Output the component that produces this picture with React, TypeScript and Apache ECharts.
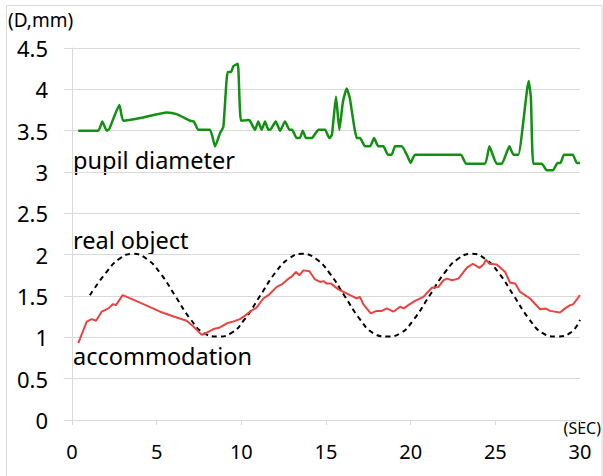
import React, { useEffect, useRef } from "react";
import * as echarts from "echarts";

const xTicks = [0, 5, 10, 15, 20, 25, 30];
const yTicks = [0, 0.5, 1, 1.5, 2, 2.5, 3, 3.5, 4, 4.5];

const pupilDiameter: [number, number][] = [
  [0.37, 3.5], [1.55, 3.5], [1.79, 3.61], [2.05, 3.5], [2.2, 3.52], [2.8, 3.81], [3.03, 3.62],
  [4.2, 3.66], [5.59, 3.72], [6.18, 3.7], [6.97, 3.62], [7.2, 3.61], [7.46, 3.51], [8.15, 3.51],
  [8.45, 3.31], [8.74, 3.47], [8.94, 3.55], [9.19, 4.21], [9.39, 4.21], [9.53, 4.28], [9.79, 4.31],
  [9.98, 3.62], [10.41, 3.63], [10.51, 3.62], [10.81, 3.51], [11.0, 3.61], [11.2, 3.51], [11.4, 3.61],
  [11.6, 3.51], [11.75, 3.52], [12.03, 3.61], [12.29, 3.5], [12.58, 3.61], [12.84, 3.51], [13.0, 3.51],
  [13.27, 3.41], [13.45, 3.41], [13.63, 3.5], [13.82, 3.41], [14.16, 3.41], [14.55, 3.51], [14.94, 3.51],
  [15.2, 3.41], [15.35, 3.45], [15.59, 3.91], [15.79, 3.51], [16.0, 3.85], [16.22, 4.01], [16.4, 3.9],
  [16.82, 3.41], [17.01, 3.41], [17.31, 3.31], [17.6, 3.31], [17.84, 3.41], [18.09, 3.31], [18.39, 3.31],
  [18.65, 3.21], [18.88, 3.21], [19.08, 3.31], [19.47, 3.31], [19.77, 3.21], [20.0, 3.11], [20.26, 3.21],
  [22.96, 3.21], [23.27, 3.1], [24.39, 3.1], [24.65, 3.31], [25.08, 3.1], [25.38, 3.1], [25.83, 3.31],
  [26.07, 3.21], [26.36, 3.21], [26.97, 4.1], [27.1, 3.9], [27.25, 3.1], [27.74, 3.1], [28.04, 3.02],
  [28.4, 3.02], [28.67, 3.11], [28.85, 3.11], [29.06, 3.21], [29.57, 3.21], [29.81, 3.11], [30, 3.11],
];

const realObject: [number, number][] = [
  [1.06, 1.51], [2.0, 1.78], [2.8, 1.95], [3.6, 2.01], [4.4, 1.95], [5.2, 1.78], [6.1, 1.5],
  [7.0, 1.22], [7.8, 1.05], [8.6, 1.01], [9.4, 1.05], [10.2, 1.22], [11.1, 1.5], [12.0, 1.78],
  [12.8, 1.95], [13.6, 2.01], [14.4, 1.95], [15.2, 1.78], [16.1, 1.5], [17.0, 1.22], [17.8, 1.05],
  [18.6, 1.01], [19.4, 1.05], [20.2, 1.22], [21.1, 1.5], [22.0, 1.78], [22.8, 1.95], [23.6, 2.01],
  [24.4, 1.95], [25.2, 1.78], [26.1, 1.5], [27.0, 1.22], [27.8, 1.05], [28.6, 1.01], [29.4, 1.05],
  [30, 1.21],
];

const accommodation: [number, number][] = [
  [0.37, 0.93], [0.87, 1.19], [1.16, 1.22], [1.42, 1.2], [1.75, 1.31], [1.95, 1.33], [2.15, 1.35],
  [2.4, 1.4], [2.6, 1.39], [2.99, 1.51], [4.02, 1.42], [5.2, 1.31], [6.18, 1.24], [6.77, 1.2],
  [7.17, 1.13], [7.66, 1.03], [7.9, 1.05], [8.35, 1.1], [8.74, 1.12], [9.14, 1.17], [9.5, 1.19],
  [9.92, 1.22], [10.2, 1.26], [10.51, 1.31], [10.9, 1.36], [11.3, 1.47], [11.6, 1.51], [12.09, 1.61],
  [12.39, 1.64], [12.78, 1.71], [12.95, 1.73], [13.23, 1.79], [13.43, 1.75], [13.66, 1.81], [14.02, 1.8],
  [14.35, 1.7], [14.65, 1.67], [14.85, 1.68], [15.04, 1.65], [15.3, 1.65], [15.73, 1.58], [16.03, 1.55],
  [16.42, 1.51], [16.82, 1.47], [17.0, 1.49], [17.21, 1.4], [17.64, 1.29], [17.99, 1.32], [18.3, 1.32],
  [18.59, 1.35], [18.98, 1.31], [19.37, 1.37], [19.6, 1.35], [19.86, 1.39], [20.26, 1.44], [20.75, 1.49],
  [21.25, 1.6], [21.64, 1.61], [21.93, 1.69], [22.13, 1.71], [22.45, 1.69], [22.82, 1.71], [23.31, 1.84],
  [23.67, 1.89], [24.06, 1.84], [24.3, 1.88], [24.45, 1.94], [24.65, 1.89], [25.08, 1.88], [25.58, 1.79],
  [25.87, 1.66], [26.17, 1.65], [26.46, 1.55], [27.05, 1.47], [27.64, 1.34], [27.95, 1.35], [28.23, 1.32],
  [28.82, 1.3], [29.12, 1.35], [29.42, 1.39], [29.6, 1.4], [30, 1.51],
];

const labels = {
  yUnit: "(D,mm)",
  xUnit: "(SEC)",
  pupil: "pupil diameter",
  real: "real object",
  accom: "accommodation",
};

const GRID = "#d9d9d9";
const MAIN_FONT = "'Noto Sans', 'Open Sans', sans-serif";

export default function App() {
  const ref = useRef<HTMLDivElement>(null);
  useEffect(() => {
    if (!ref.current) return;
    document.body.style.margin = "0";
    const chart = echarts.init(ref.current, undefined, { renderer: "svg" });
    chart.setOption({
      animation: false,
      backgroundColor: "#ffffff",
      grid: { left: 72, right: 23, top: 48, bottom: 56, containLabel: false },
      xAxis: {
        type: "value",
        min: xTicks[0],
        max: xTicks[xTicks.length - 1],
        interval: 5,
        axisLine: { show: true, lineStyle: { color: GRID, width: 1 } },
        axisTick: { show: true, length: 5, lineStyle: { color: GRID } },
        splitLine: { show: false },
        axisLabel: { color: "#000", fontSize: 20, fontFamily: MAIN_FONT, margin: 21 },
      },
      yAxis: {
        type: "value",
        min: yTicks[0],
        max: yTicks[yTicks.length - 1],
        interval: 0.5,
        axisLine: { show: true, lineStyle: { color: GRID, width: 1 } },
        axisTick: { show: true, length: 8, lineStyle: { color: GRID } },
        splitLine: { show: true, lineStyle: { color: GRID, width: 1 } },
        axisLabel: { color: "#000", fontSize: 22, fontFamily: MAIN_FONT, margin: 24 },
      },
      series: [
        {
          type: "line",
          name: "pupil diameter",
          data: pupilDiameter,
          showSymbol: false,
          smooth: 0.15,
          lineStyle: { color: "#129012", width: 2.5 },
        },
        {
          type: "line",
          name: "real object",
          data: realObject,
          showSymbol: false,
          smooth: true,
          lineStyle: { color: "#000", width: 2, type: [5, 4] },
        },
        {
          type: "line",
          name: "accommodation",
          data: accommodation,
          showSymbol: false,
          smooth: false,
          lineStyle: { color: "#ec4242", width: 2 },
        },
      ],
      graphic: [
        {
          type: "rect",
          shape: { x: 6.5, y: 5.5, width: 595.5, height: 480 },
          style: { fill: "none", stroke: GRID, lineWidth: 1 },
          silent: true,
        },
        {
          type: "text",
          x: 8,
          y: 20,
          style: { text: labels.yUnit, fill: "#000", fontSize: 19, fontFamily: MAIN_FONT, verticalAlign: "middle" },
        },
        {
          type: "text",
          x: 601,
          y: 428,
          style: { text: labels.xUnit, fill: "#000", fontSize: 16, fontFamily: MAIN_FONT, align: "right", verticalAlign: "middle" },
        },
        {
          type: "text",
          x: 73,
          y: 160,
          style: { text: labels.pupil, fill: "#000", fontSize: 23.5, fontFamily: MAIN_FONT, verticalAlign: "middle" },
        },
        {
          type: "text",
          x: 73,
          y: 240,
          style: { text: labels.real, fill: "#000", fontSize: 23.5, fontFamily: MAIN_FONT, verticalAlign: "middle" },
        },
        {
          type: "text",
          x: 73,
          y: 356,
          style: { text: labels.accom, fill: "#000", fontSize: 23.5, fontFamily: MAIN_FONT, verticalAlign: "middle" },
        },
      ],
    });
    return () => chart.dispose();
  }, []);
  return <div ref={ref} style={{ width: 603, height: 476 }} />;
}
